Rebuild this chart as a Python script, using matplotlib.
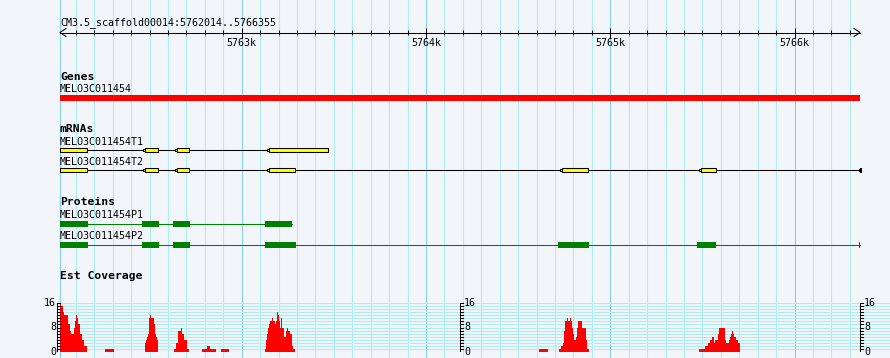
import numpy as np
import matplotlib
matplotlib.use('Agg')
import matplotlib.pyplot as plt

# Регион и подписи
REGION_NAME = 'CM3.5_scaffold00014'
REGION_START = 5762014
REGION_END = 5766355

GENE_NAME = 'MELO3C011454'
GENE_START = 5762014
GENE_END = 5766355

T1_NAME = 'MELO3C011454T1'
T1_STARTS = [5762014, 5762464, 5762638, 5763137]
T1_ENDS = [5762161, 5762546, 5762714, 5763468]

T2_NAME = 'MELO3C011454T2'
T2_STARTS = [5762014, 5762464, 5762638, 5763137, 5764727, 5765481, 5766349]
T2_ENDS = [5762161, 5762546, 5762714, 5763289, 5764879, 5765573, 5766355]

P1_NAME = 'MELO3C011454P1'
P1_STARTS = [5762014, 5762459, 5762627, 5763126]
P1_ENDS = [5762166, 5762551, 5762719, 5763273]

P2_NAME = 'MELO3C011454P2'
P2_STARTS = [5762014, 5762459, 5762627, 5763126, 5764716, 5765470, 5766349]
P2_ENDS = [5762166, 5762551, 5762719, 5763294, 5764884, 5765573, 5766355]

# Покрытие EST: смещение начала/конца от начала региона (bp) и глубина
COV_FROM = [0, 8, 14, 19, 43, 52, 60, 76, 81, 87, 92, 98, 106, 117, 130,
            244,
            461, 467, 472, 477, 483, 488, 494, 510, 515, 521, 526,
            619, 629, 640, 657, 662, 673, 689,
            770, 798, 814,
            874,
            1112, 1118, 1123, 1129, 1134, 1139, 1150, 1156, 1167, 1172, 1178, 1183,
            1188, 1194, 1199, 1204, 1215, 1226, 1232, 1237, 1248, 1259, 1264,
            2599,
            2708, 2718, 2729, 2735, 2740, 2751, 2756, 2767, 2773, 2778, 2784, 2789,
            2800, 2805, 2811, 2832, 2854, 2860,
            3467, 3500, 3516, 3527, 3538, 3549, 3554, 3570, 3576, 3608, 3614, 3630,
            3635, 3641, 3646, 3652, 3657, 3668, 3679]
COV_TO = [8, 14, 19, 43, 52, 60, 76, 81, 87, 92, 98, 106, 117, 130, 147,
          293,
          467, 472, 477, 483, 488, 494, 510, 515, 521, 526, 532,
          629, 640, 657, 662, 673, 689, 700,
          798, 814, 846,
          917,
          1118, 1123, 1129, 1134, 1139, 1150, 1156, 1167, 1172, 1178, 1183, 1188,
          1194, 1199, 1204, 1215, 1226, 1232, 1237, 1248, 1259, 1264, 1275,
          2648,
          2718, 2729, 2735, 2740, 2751, 2756, 2767, 2773, 2778, 2784, 2789, 2800,
          2805, 2811, 2832, 2854, 2860, 2870,
          3500, 3516, 3527, 3538, 3549, 3554, 3570, 3576, 3608, 3614, 3630, 3635,
          3641, 3646, 3652, 3657, 3668, 3679, 3690]
COV_DEPTH = [16, 15, 13, 12, 9, 7, 6, 8, 10, 12, 11, 9, 6, 4, 2,
             1,
             3, 4, 5, 6, 11, 12, 11, 9, 6, 5, 4,
             1, 3, 7, 8, 6, 4, 1,
             1, 2, 1,
             1,
             1, 4, 6, 8, 9, 10, 11, 10, 9, 10, 13, 12,
             10, 8, 11, 8, 5, 7, 8, 7, 6, 2, 1,
             1,
             1, 2, 3, 7, 10, 11, 10, 11, 10, 8, 6, 4,
             5, 8, 10, 8, 4, 1,
             1, 2, 3, 4, 5, 3, 4, 6, 8, 4, 3, 4,
             5, 6, 7, 6, 5, 4, 3]
COV_MAX = 16

# Стиль
BG = '#F2F5FA'
MINOR = '#AEEEEE'
MAJOR = '#87CEEB'
MONO = 'DejaVu Sans Mono'
FS = 7.2
W, H = 890, 358
LEFT_PX = 60
TRACK_PX = 800
LW = 0.75

bp_px = (REGION_END - REGION_START) / TRACK_PX
x_lo = REGION_START - LEFT_PX * bp_px
x_hi = REGION_START + (W - LEFT_PX) * bp_px

fig = plt.figure(figsize=(W / 100, H / 100), dpi=100, facecolor=BG)
ax = fig.add_axes([0, 0, 1, 1])
ax.set_xlim(x_lo, x_hi)
ax.set_ylim(H, 0)
ax.axis('off')

# сетка
ax.axvline(REGION_START, color=MAJOR, lw=LW, zorder=0)
for pos in range(5762100, REGION_END, 100):
    ax.axvline(pos, color=MAJOR if pos % 1000 == 0 else MINOR, lw=LW, zorder=0)

# линейка
ax.text(REGION_START, 25, f'{REGION_NAME}:{REGION_START}..{REGION_END}',
        fontsize=FS, family=MONO, va='baseline')
ax.plot([REGION_START, REGION_END], [32.5, 32.5], color='black', lw=LW)
ax.plot([REGION_START + 6 * bp_px, REGION_START, REGION_START + 6 * bp_px],
        [28.5, 32.5, 36.5], color='black', lw=LW)
ax.plot([REGION_END - 6 * bp_px, REGION_END, REGION_END - 6 * bp_px],
        [28.5, 32.5, 36.5], color='black', lw=LW)
for pos in range(5762100, REGION_END, 100):
    if pos % 1000 == 0:
        ax.vlines(pos, 27.5, 37.5, color='black', lw=LW)
        ax.text(pos, 46, f'{pos // 1000}k', fontsize=FS, family=MONO,
                ha='center', va='baseline')
    else:
        ax.vlines(pos, 30, 35, color='black', lw=LW)


def track_title(y, s):
    ax.text(REGION_START, y, s, fontsize=8.2, family=MONO, weight='bold',
            va='baseline')


def label(y, s):
    ax.text(REGION_START, y, s, fontsize=FS, family=MONO, va='baseline')


def spans(starts, ends):
    return [(s, e - s) for s, e in zip(starts, ends)]


# Genes
track_title(80, 'Genes')
label(92, GENE_NAME)
ax.broken_barh([(GENE_START, GENE_END - GENE_START)], (95, 6), color='#FF0000',
               lw=0)

# mRNAs
track_title(132, 'mRNAs')
tip = 2 * bp_px
for name, st, en, yl, yc in [(T1_NAME, T1_STARTS, T1_ENDS, 145, 149.5),
                             (T2_NAME, T2_STARTS, T2_ENDS, 165, 170.0)]:
    label(yl, name)
    ax.plot([st[0], en[-1]], [yc, yc], color='black', lw=LW, zorder=2)
    # у всех экзонов, кроме первого, слева небольшой узкий выступ
    body_st = [st[0]] + [s + tip for s in st[1:]]
    ax.broken_barh([(s, tip) for s in st[1:]], (yc - 1, 2),
                   facecolor='#FFFF00', edgecolor='black', lw=LW, zorder=3)
    ax.broken_barh(spans(body_st, en), (yc - 2, 4), facecolor='#FFFF00',
                   edgecolor='black', lw=LW, zorder=3)

# Proteins
track_title(205, 'Proteins')
for name, st, en, yl, yc in [(P1_NAME, P1_STARTS, P1_ENDS, 218, 224.0),
                             (P2_NAME, P2_STARTS, P2_ENDS, 239, 244.5)]:
    label(yl, name)
    ax.plot([st[0], en[-1]], [yc, yc], color='#008000', lw=LW, zorder=2)
    ax.broken_barh(spans(st, en), (yc - 3, 6), color='#008000', lw=0, zorder=3)

# Est Coverage
track_title(279, 'Est Coverage')

cov = fig.add_axes([0, (H - 352) / H, 1, 49 / H])
cov.set_xlim(x_lo, x_hi)
cov.set_ylim(0, COV_MAX)
cov.axis('off')

for v in range(COV_MAX + 1):
    cov.hlines(v, REGION_START, x_hi, color=MAJOR if v == 0 else MINOR,
               lw=LW, zorder=1)

c_from = REGION_START + np.array(COV_FROM)
c_to = REGION_START + np.array(COV_TO)
cov.bar(c_from, COV_DEPTH, width=c_to - c_from, align='edge',
        color='#FF0000', linewidth=0, zorder=3)

mid = (REGION_START + REGION_END) / 2
for xa, side in [(REGION_START - 3 * bp_px, 'left'), (mid, 'right'),
                 (REGION_END, 'right')]:
    cov.plot([xa, xa], [0, COV_MAX], color='black', lw=LW, zorder=4)
    for v in range(COV_MAX + 1):
        cov.plot([xa, xa + 3 * bp_px], [v, v], color='black', lw=LW, zorder=4)
    for v in [0, COV_MAX // 2, COV_MAX]:
        if side == 'left':
            cov.text(xa - 1 * bp_px, v, str(v), fontsize=FS, family=MONO,
                     ha='right', va='center')
        else:
            cov.text(xa + 4 * bp_px, v, str(v), fontsize=FS, family=MONO,
                     ha='left', va='center')

fig.savefig('out.png', dpi=100, facecolor=BG)
